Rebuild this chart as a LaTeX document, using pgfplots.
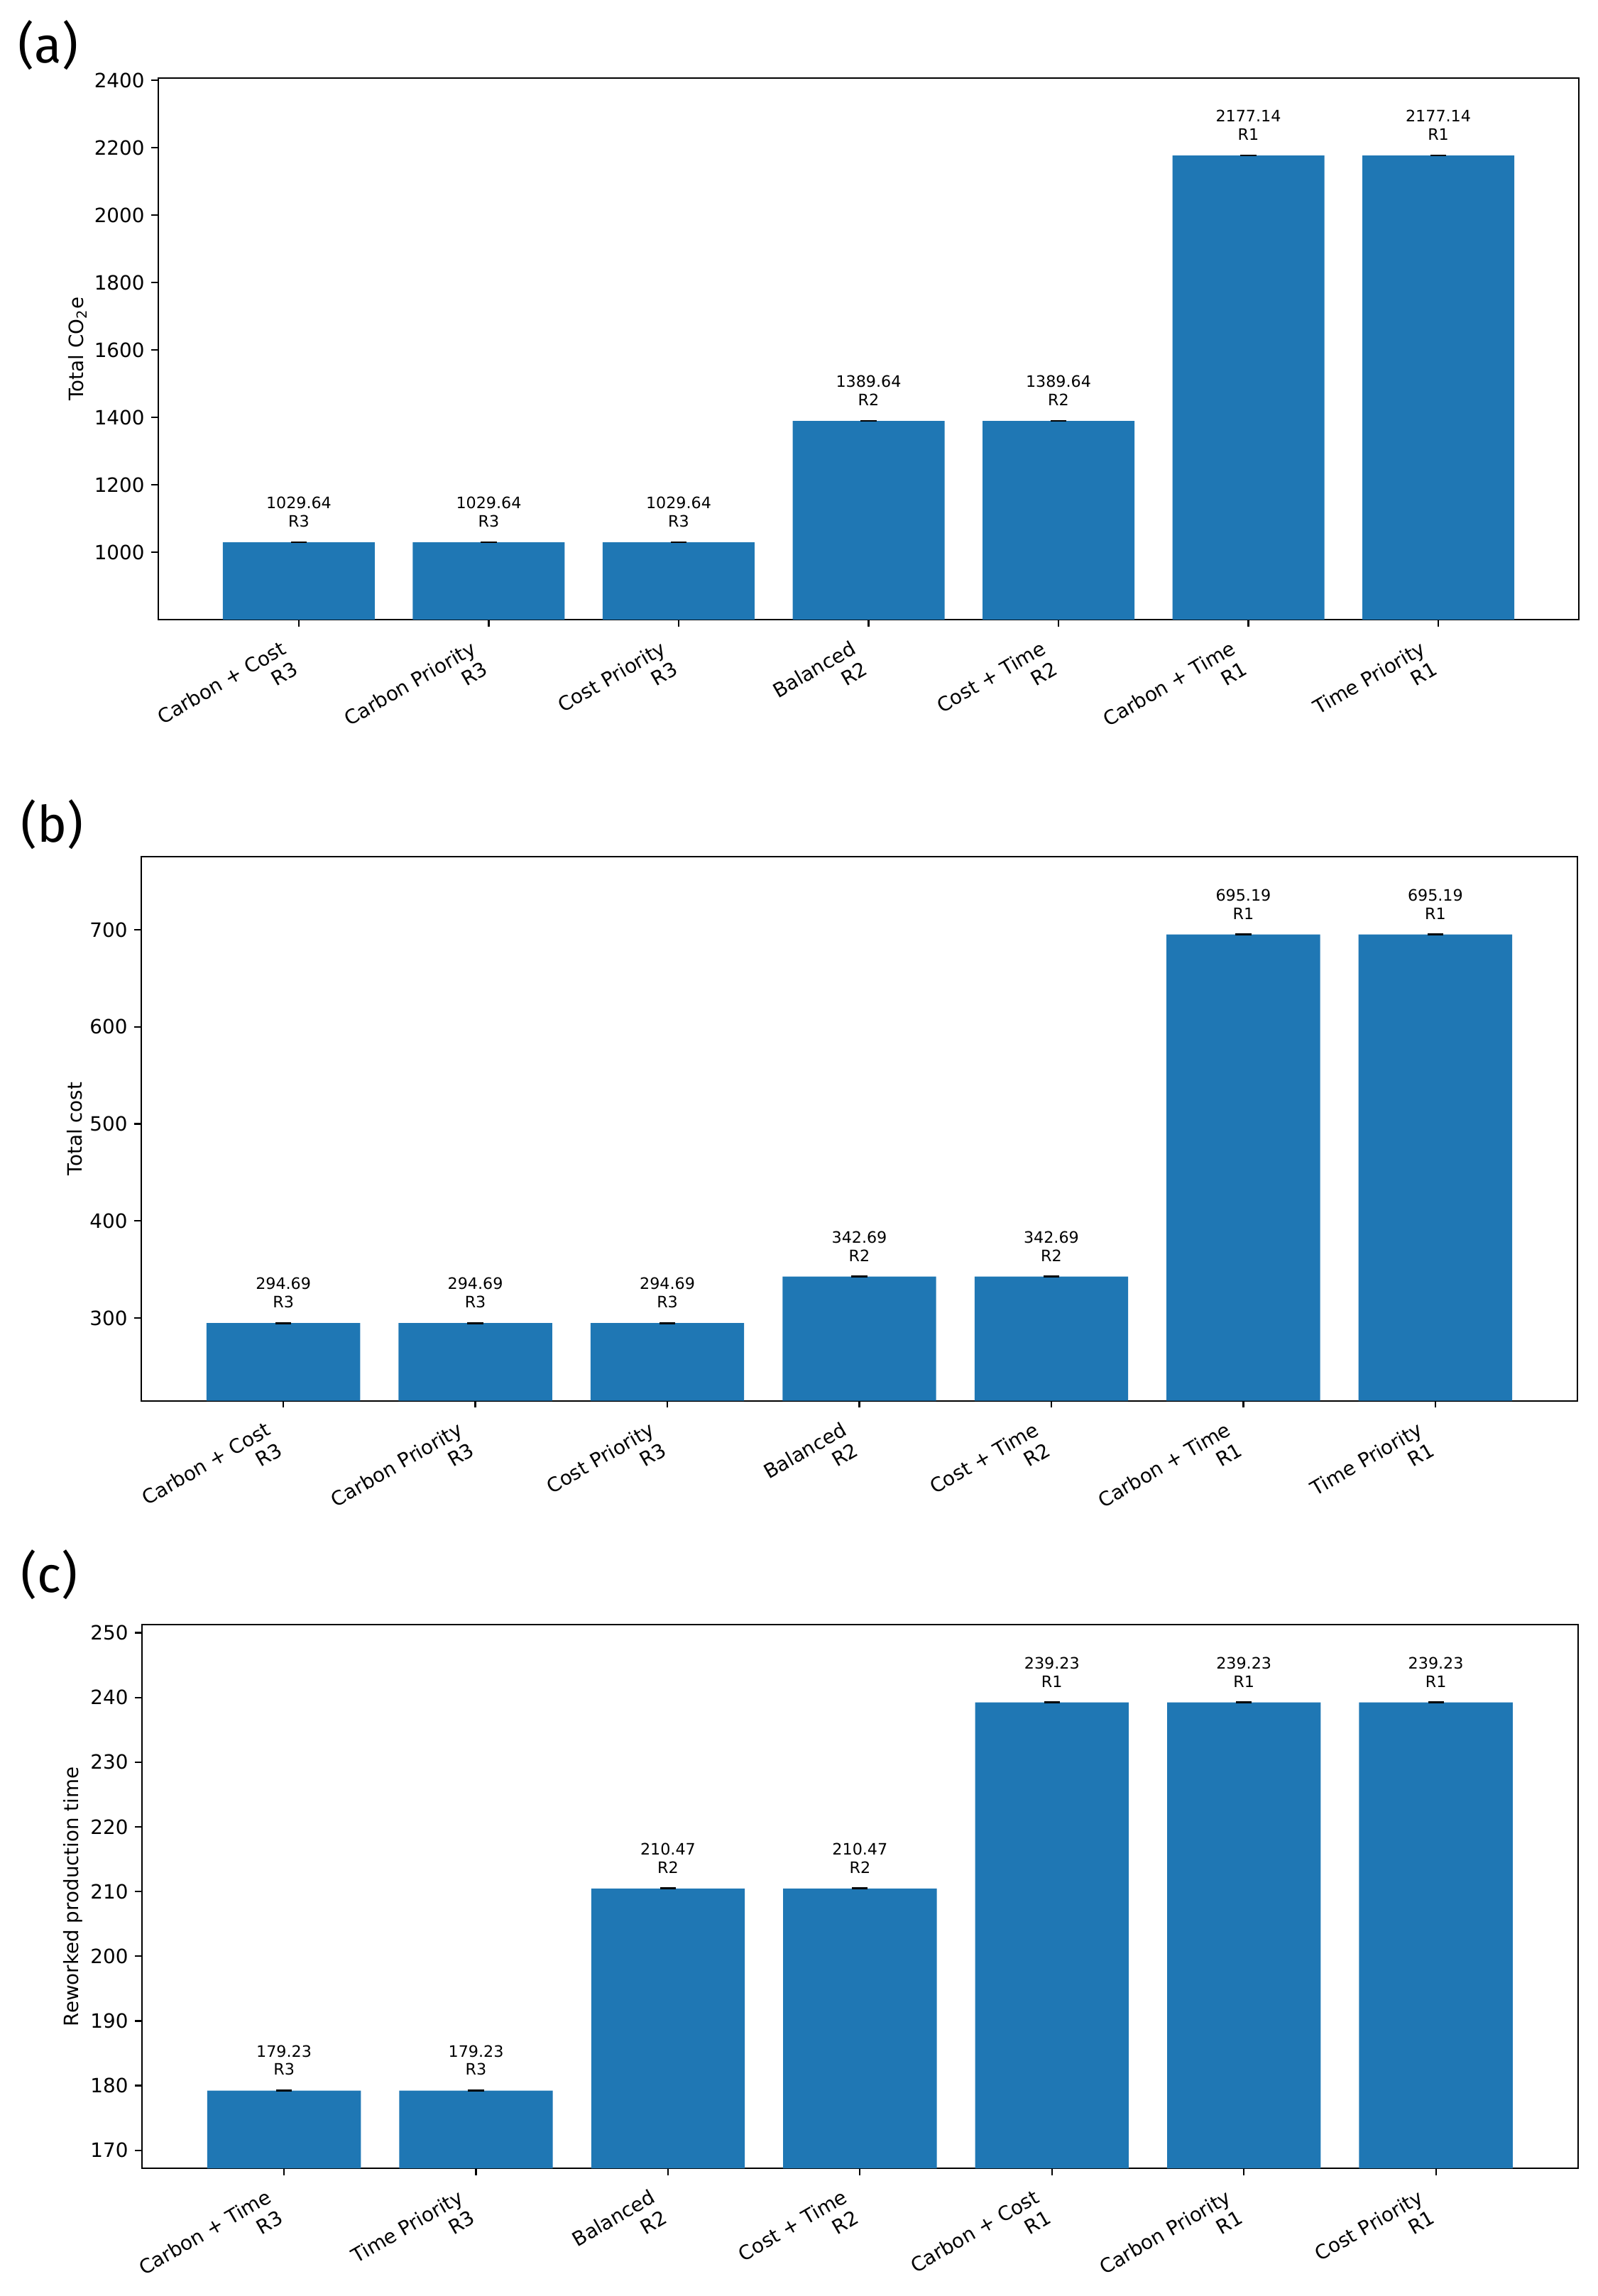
\documentclass[border=0pt]{standalone}
\usepackage{fontspec}
\setmainfont{DejaVu Sans}
\newfontfamily\panelfont{Fira Sans}
\usepackage{pgfplots}
\usepackage{pgfplotstable}
\pgfplotsset{compat=1.18}
\definecolor{tabblue}{HTML}{1F77B4}

\pgfplotstableread{
x v r
0 1029.64 R3
1 1029.64 R3
2 1029.64 R3
3 1389.64 R2
4 1389.64 R2
5 2177.14 R1
6 2177.14 R1
}\tblA
\pgfplotstableread{
x v r
0 294.69 R3
1 294.69 R3
2 294.69 R3
3 342.69 R2
4 342.69 R2
5 695.19 R1
6 695.19 R1
}\tblB
\pgfplotstableread{
x v r
0 179.23 R3
1 179.23 R3
2 210.47 R2
3 210.47 R2
4 239.23 R1
5 239.23 R1
6 239.23 R1
}\tblC

\pgfplotsset{
  mpl/.style={
    scale only axis,
    anchor=north west,
    xmin=-0.74, xmax=6.74,
    xtick={0,...,6},
    axis line style={line width=0.8pt},
    tick style={line width=0.8pt, black},
    major tick length=3.5pt,
    tick align=outside,
    xtick pos=bottom, ytick pos=left,
    /pgf/number format/assume math mode=true,
    /pgf/number format/1000 sep={},
    yticklabel style={font=\fontsize{10}{12}\selectfont},
    xticklabel style={font=\fontsize{10}{12}\selectfont, align=right, inner sep=0pt, xshift=-9.5pt, yshift=-6.5pt, rotate=30, anchor=north east},
    ylabel style={font=\fontsize{10}{12}\selectfont},
    ylabel shift=-3pt,
  },
  barplot/.style={ybar, bar width=0.8, fill=tabblue, draw=none,
    point meta=explicit symbolic,
    visualization depends on={\thisrow{v} \as \rawy},
    nodes near coords={\pgfmathprintnumber[fixed, fixed zerofill, precision=2, 1000 sep={}, assume math mode=true]{\rawy}\\\pgfplotspointmeta},
    every node near coord/.append style={font=\fontsize{8}{9.3}\selectfont, align=center, inner sep=0pt, anchor=south, yshift=7.5pt, text=black}},
  capplot/.style={only marks, mark=-, mark size=4pt, mark options={line width=1pt, draw=black}}
}

\begin{document}
\begin{tikzpicture}
\useasboundingbox (0,0) rectangle (810.36pt,-1164.6pt);

\node[anchor=base west, inner sep=0pt, font=\panelfont\fontsize{25.5}{30}\selectfont] at (9pt,-31.7pt) {(a)};
\node[anchor=base west, inner sep=0pt, font=\panelfont\fontsize{25.5}{30}\selectfont] at (10.4pt,-427pt) {(b)};
\node[anchor=base west, inner sep=0pt, font=\panelfont\fontsize{25.5}{30}\selectfont] at (10.4pt,-807.5pt) {(c)};

\begin{axis}[mpl, at={(80.28pt,-39.6pt)}, width=720.36pt, height=274.68pt,
  ymin=800.14, ymax=2406.64, ytick={1000,1200,...,2400},
  ylabel={Total CO\textsubscript{2}e},
  xticklabels={{Carbon + Cost\\R3},{Carbon Priority\\R3},{Cost Priority\\R3},{Balanced\\R2},{Cost + Time\\R2},{Carbon + Time\\R1},{Time Priority\\R1}}]
\addplot[barplot] table[x=x, y=v, meta=r] {\tblA};
\addplot[capplot] table[x=x, y=v] {\tblA};
\end{axis}

\begin{axis}[mpl, at={(71.64pt,-434.52pt)}, width=728.28pt, height=276.0pt,
  ymin=214.59, ymax=775.29, ytick={300,400,...,700},
  ylabel={Total cost},
  xticklabels={{Carbon + Cost\\R3},{Carbon Priority\\R3},{Cost Priority\\R3},{Balanced\\R2},{Cost + Time\\R2},{Carbon + Time\\R1},{Time Priority\\R1}}]
\addplot[barplot] table[x=x, y=v, meta=r] {\tblB};
\addplot[capplot] table[x=x, y=v] {\tblB};
\end{axis}

\begin{axis}[mpl, at={(72pt,-824.15pt)}, width=728.17pt, height=275.65pt,
  ymin=167.23, ymax=251.23, ytick={170,180,...,250},
  ylabel={Reworked production time},
  xticklabels={{Carbon + Time\\R3},{Time Priority\\R3},{Balanced\\R2},{Cost + Time\\R2},{Carbon + Cost\\R1},{Carbon Priority\\R1},{Cost Priority\\R1}}]
\addplot[barplot] table[x=x, y=v, meta=r] {\tblC};
\addplot[capplot] table[x=x, y=v] {\tblC};
\end{axis}
\end{tikzpicture}
\end{document}
